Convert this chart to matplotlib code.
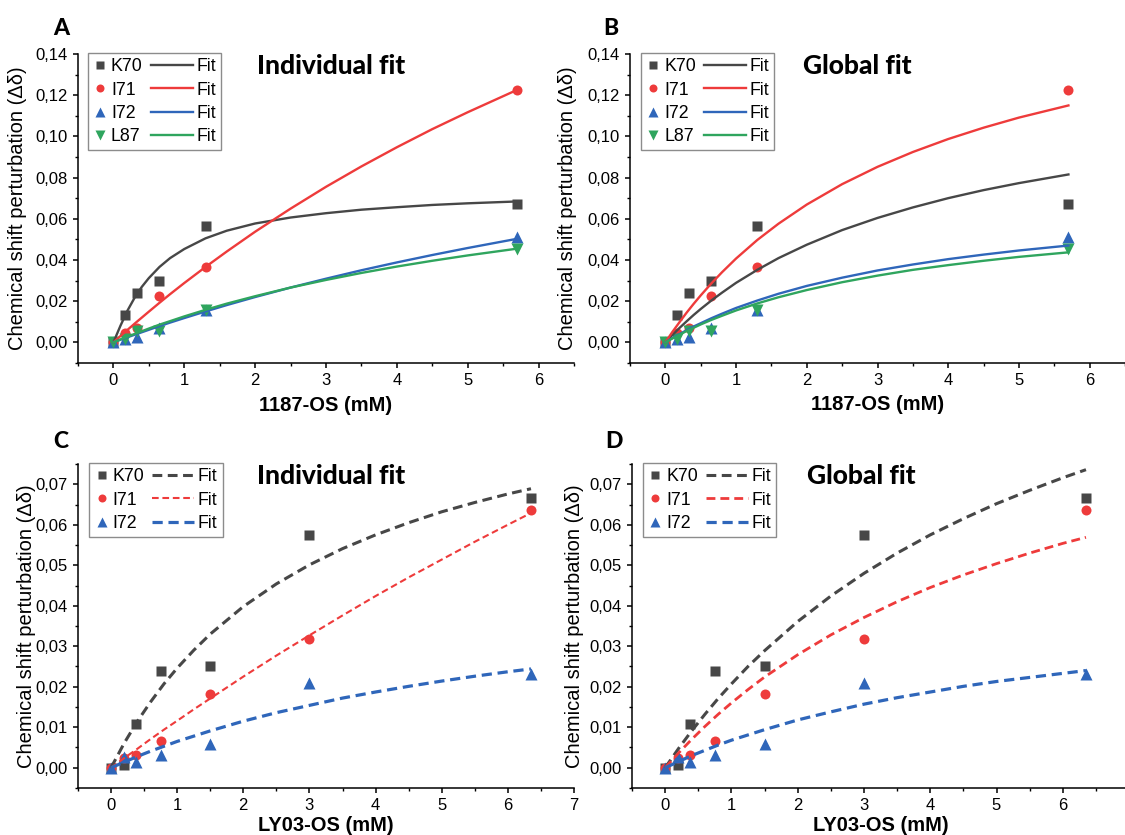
import matplotlib
matplotlib.use("Agg")
import matplotlib.pyplot as plt
from matplotlib.ticker import MultipleLocator, FuncFormatter
from matplotlib.legend_handler import HandlerLine2D

plt.rcParams['font.family'] = ['Liberation Sans', 'DejaVu Sans']
HEAD_FONT = ['Lato', 'Open Sans', 'DejaVu Sans']

# Farben / Marker pro Residue
residues = ['K70', 'I71', 'I72', 'L87']
colors = ['#474747', '#EE3B3B', '#2F66BA', '#2FA55E']
markers = ['s', 'o', '^', 'v']
marker_sizes = [6.6, 7.2, 8.2, 8.2]

# --- 1187-OS Titration (Panels A, B) ---
conc_1187 = [0, 0.16, 0.33, 0.65, 1.3, 5.7]
k70_1187 = [0, 0.0132, 0.0242, 0.0297, 0.0566, 0.0673]
i71_1187 = [0, 0.0045, 0.0070, 0.0226, 0.0366, 0.1226]
i72_1187 = [0, 0.0016, 0.0024, 0.0071, 0.0155, 0.0513]
l87_1187 = [0, 0.0017, 0.0057, 0.0054, 0.0155, 0.0455]

fit_x_1187 = [0, 0.1, 0.2, 0.3, 0.4, 0.5, 0.65, 0.8, 1.0, 1.3, 1.6, 2.0, 2.5,
              3.0, 3.5, 4.0, 4.5, 5.0, 5.7]
# individuelle Fits
fitA_k70 = [0, 0.0081, 0.0155, 0.0217, 0.0269, 0.0312, 0.0366, 0.0409, 0.0453, 0.0505,
            0.0542, 0.0577, 0.0606, 0.0627, 0.0644, 0.0656, 0.0667, 0.0675, 0.0684]
fitA_i71 = [0, 0.0031, 0.0061, 0.0091, 0.0120, 0.0149, 0.0192, 0.0234, 0.0288, 0.0366,
            0.0441, 0.0537, 0.0649, 0.0755, 0.0854, 0.0947, 0.1035, 0.1117, 0.1226]
fitA_i72 = [0, 0.0013, 0.0025, 0.0037, 0.0049, 0.0061, 0.0079, 0.0096, 0.0118, 0.0150,
            0.0181, 0.0220, 0.0266, 0.0309, 0.0350, 0.0388, 0.0424, 0.0458, 0.0503]
fitA_l87 = [0, 0.0014, 0.0028, 0.0041, 0.0054, 0.0067, 0.0086, 0.0103, 0.0126, 0.0158,
            0.0188, 0.0224, 0.0266, 0.0303, 0.0337, 0.0368, 0.0396, 0.0422, 0.0455]
# globaler Fit
fitB_k70 = [0, 0.0036, 0.0070, 0.0102, 0.0133, 0.0162, 0.0203, 0.0241, 0.0289, 0.0352,
            0.0409, 0.0474, 0.0545, 0.0604, 0.0655, 0.0700, 0.0739, 0.0773, 0.0815]
fitB_i71 = [0, 0.0051, 0.0098, 0.0144, 0.0187, 0.0228, 0.0286, 0.0340, 0.0407, 0.0497,
            0.0576, 0.0669, 0.0768, 0.0852, 0.0924, 0.0987, 0.1042, 0.1091, 0.1150]
fitB_i72 = [0, 0.0021, 0.0040, 0.0059, 0.0077, 0.0093, 0.0117, 0.0139, 0.0167, 0.0203,
            0.0236, 0.0274, 0.0314, 0.0349, 0.0378, 0.0404, 0.0426, 0.0446, 0.0470]
fitB_l87 = [0, 0.0019, 0.0037, 0.0055, 0.0071, 0.0087, 0.0109, 0.0129, 0.0155, 0.0189,
            0.0219, 0.0254, 0.0292, 0.0324, 0.0352, 0.0375, 0.0396, 0.0415, 0.0437]

# --- LY03-OS Titration (Panels C, D) ---
conc_ly03 = [0, 0.19, 0.375, 0.75, 1.5, 3.0, 6.35]
k70_ly03 = [0, 0.0008, 0.0107, 0.0238, 0.0252, 0.0574, 0.0666]
i71_ly03 = [0, 0.0024, 0.0031, 0.0067, 0.0182, 0.0318, 0.0636]
i72_ly03 = [0, 0.0027, 0.0013, 0.0032, 0.0058, 0.0210, 0.0231]

fit_x_ly03 = [0, 0.2, 0.4, 0.6, 0.8, 1.0, 1.25, 1.5, 2.0, 2.5, 3.0, 3.5, 4.0, 4.5,
              5.0, 5.5, 6.0, 6.35]
fitC_k70 = [0, 0.0061, 0.0115, 0.0163, 0.0207, 0.0246, 0.0290, 0.0330, 0.0398, 0.0454,
            0.0501, 0.0541, 0.0575, 0.0605, 0.0632, 0.0655, 0.0676, 0.0689]
fitC_i71 = [0, 0.0024, 0.0047, 0.0071, 0.0094, 0.0116, 0.0144, 0.0171, 0.0225, 0.0277,
            0.0327, 0.0376, 0.0424, 0.0470, 0.0514, 0.0558, 0.0600, 0.0629]
fitC_i72 = [0, 0.0014, 0.0028, 0.0041, 0.0053, 0.0065, 0.0078, 0.0091, 0.0115, 0.0136,
            0.0154, 0.0172, 0.0187, 0.0201, 0.0214, 0.0226, 0.0237, 0.0244]
fitD_k70 = [0, 0.0047, 0.0091, 0.0132, 0.0171, 0.0207, 0.0250, 0.0289, 0.0361, 0.0424,
            0.0480, 0.0530, 0.0575, 0.0615, 0.0652, 0.0685, 0.0716, 0.0736]
fitD_i71 = [0, 0.0036, 0.0070, 0.0102, 0.0132, 0.0160, 0.0193, 0.0224, 0.0279, 0.0328,
            0.0371, 0.0410, 0.0445, 0.0476, 0.0504, 0.0530, 0.0554, 0.0569]
fitD_i72 = [0, 0.0015, 0.0030, 0.0043, 0.0056, 0.0068, 0.0081, 0.0094, 0.0118, 0.0138,
            0.0157, 0.0173, 0.0187, 0.0201, 0.0213, 0.0223, 0.0233, 0.0240]


class StretchedLine(HandlerLine2D):
    """Fit-Linie in der Legende nach links verlaengern (bis an den Residue-Namen)."""
    def __init__(self, reach, **kw):
        super().__init__(**kw)
        self.reach = reach

    def create_artists(self, legend, orig_handle, xdescent, ydescent, width, height,
                       fontsize, trans):
        extra = self.reach * fontsize
        return super().create_artists(legend, orig_handle, xdescent + extra, ydescent,
                                      width + extra, height, fontsize, trans)


def comma(v, pos):
    if abs(v) < 1e-9:
        v = 0.0
    return f'{v:.2f}'.replace('.', ',')


def panel(rect, x, ys, fit_x, fits, xmax, ylim, ystep, xlabel, title, title_x,
          leg_x, fit_style, fit_widths, xlabel_y, ylabel_x):
    ax = fig.add_axes(rect)
    pts, lines = [], []
    for i, y in enumerate(ys):
        p, = ax.plot(x, y, ls='none', marker=markers[i], ms=marker_sizes[i],
                     color=colors[i], mec='none', zorder=3)
        pts.append(p)
    for i, fy in enumerate(fits):
        l, = ax.plot(fit_x, fy, ls=fit_style, lw=fit_widths[i], color=colors[i], zorder=4)
        if fit_style == '--':
            l.set_dashes((3.2, 1.8))
        lines.append(l)

    ax.set_xlim(-0.5, xmax)
    ax.set_ylim(*ylim)
    ax.xaxis.set_major_locator(MultipleLocator(1))
    ax.xaxis.set_minor_locator(MultipleLocator(0.5))
    ax.yaxis.set_major_locator(MultipleLocator(ystep))
    ax.yaxis.set_minor_locator(MultipleLocator(ystep / 2))
    ax.yaxis.set_major_formatter(FuncFormatter(comma))
    for s in ['top', 'right']:
        ax.spines[s].set_visible(False)
    for s in ['left', 'bottom']:
        ax.spines[s].set_linewidth(1.1)
    ax.tick_params(which='major', direction='out', length=3.8, width=1.1,
                   labelsize=12, pad=3.5)
    ax.tick_params(which='minor', direction='out', length=2.2, width=1.0)

    ax.set_xlabel(xlabel, fontsize=14.5, fontweight='bold')
    ax.xaxis.set_label_coords(0.5, xlabel_y)
    ax.set_ylabel('Chemical shift perturbation (Δδ)', fontsize=14.5)
    ax.yaxis.set_label_coords(ylabel_x, 0.5)

    ax.text(title_x, 0.962, title, transform=ax.transAxes, ha='center', va='center',
            fontsize=19, fontweight='black', family=HEAD_FONT)

    hmap = {l: StretchedLine(1.55) for l in lines}
    leg = ax.legend(pts + lines, residues[:len(ys)] + ['Fit'] * len(lines),
                    handler_map=hmap, ncol=2, loc='upper left',
                    bbox_to_anchor=(leg_x, 1.003), borderaxespad=0, fontsize=12.8,
                    handlelength=0.8, handletextpad=0.2, columnspacing=2.0,
                    labelspacing=0.35, borderpad=0.3, markerscale=0.8,
                    fancybox=False, framealpha=1, edgecolor='#8c8c8c')
    leg.get_frame().set_linewidth(1.0)
    return ax


fig = plt.figure(figsize=(11.25, 8.35), dpi=100)

panel([0.0693, 0.5653, 0.4409, 0.3701], conc_1187,
      [k70_1187, i71_1187, i72_1187, l87_1187], fit_x_1187,
      [fitA_k70, fitA_i71, fitA_i72, fitA_l87], 6.5, (-0.01, 0.14), 0.02,
      '1187-OS (mM)', 'Individual fit', 0.51, 0.02, '-', [1.7] * 4, -0.107, -0.103)

panel([0.56, 0.5653, 0.44, 0.3701], conc_1187,
      [k70_1187, i71_1187, i72_1187, l87_1187], fit_x_1187,
      [fitB_k70, fitB_i71, fitB_i72, fitB_l87], 6.5, (-0.01, 0.14), 0.02,
      '1187-OS (mM)', 'Global fit', 0.46, 0.022, '-', [1.7] * 4, -0.104, -0.107)

panel([0.0693, 0.0563, 0.4409, 0.388], conc_ly03,
      [k70_ly03, i71_ly03, i72_ly03], fit_x_ly03,
      [fitC_k70, fitC_i71, fitC_i72], 7, (-0.005, 0.075), 0.01,
      'LY03-OS (mM)', 'Individual fit', 0.51, 0.023, '--', [2.2, 1.5, 2.3], -0.086, -0.085)

panel([0.5618, 0.0563, 0.4418, 0.388], conc_ly03,
      [k70_ly03, i71_ly03, i72_ly03], fit_x_ly03,
      [fitD_k70, fitD_i71, fitD_i72], 7, (-0.005, 0.075), 0.01,
      'LY03-OS (mM)', 'Global fit', 0.462, 0.022, '--', [2.2, 2.0, 2.3], -0.086, -0.097)

# Panel-Buchstaben
for letter, (fx, fy) in zip('ABCD', [(0.054, 0.966), (0.543, 0.966),
                                     (0.054, 0.471), (0.546, 0.471)]):
    fig.text(fx, fy, letter, fontsize=16.5, fontweight='black', family=HEAD_FONT,
             ha='center', va='center')

fig.savefig('out.png', dpi=100)
